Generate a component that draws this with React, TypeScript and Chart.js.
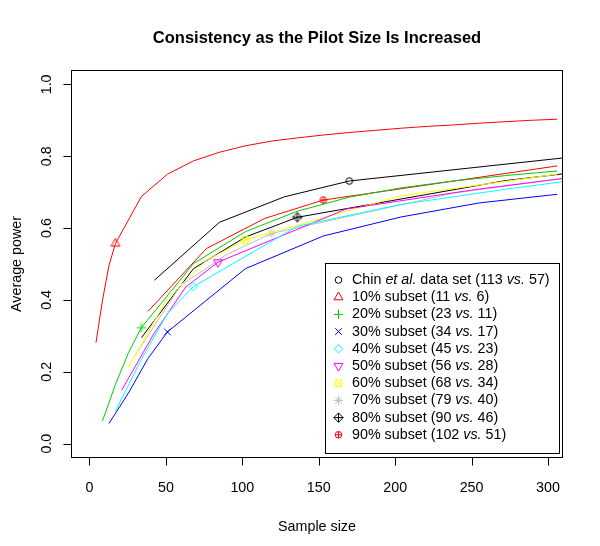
import React, { useEffect, useRef } from "react";
import { Chart, registerables } from "chart.js";

Chart.register(...registerables);

const FONT = '"Liberation Sans", Arial, Helvetica, sans-serif';

// ---- data ----
const chinX = [42.5, 85, 127.5, 170, 340];
const chinY = [0.455, 0.616, 0.687, 0.731, 0.809];

const s10X = [4.25, 8.5, 12.75, 17, 34, 51, 68, 85, 102, 119, 136, 153, 170, 187, 204, 221, 238, 255, 272, 289, 306];
const s10Y = [0.281, 0.399, 0.496, 0.557, 0.688, 0.750, 0.787, 0.811, 0.829, 0.842, 0.851, 0.859, 0.866, 0.872, 0.878, 0.883, 0.887, 0.892, 0.896, 0.900, 0.903];

const s20X = [8.5, 17, 25.5, 34, 68, 102, 136, 170, 204, 238, 272, 306];
const s20Y = [0.063, 0.165, 0.253, 0.323, 0.501, 0.590, 0.647, 0.686, 0.712, 0.731, 0.746, 0.759];

const s30X = [12.75, 25.5, 38.25, 51, 102, 153, 204, 255, 306];
const s30Y = [0.056, 0.141, 0.237, 0.311, 0.487, 0.578, 0.631, 0.670, 0.694];

const s40X = [17, 34, 51, 68, 136, 204, 272, 340];
const s40Y = [0.091, 0.235, 0.362, 0.437, 0.605, 0.666, 0.708, 0.746];

const s50X = [21, 42, 63, 84, 168, 252, 336];
const s50Y = [0.148, 0.305, 0.436, 0.505, 0.653, 0.707, 0.752];

const s60X = [25.5, 51, 76.5, 102, 204, 306];
const s60Y = [0.213, 0.405, 0.510, 0.567, 0.690, 0.750];

const s70X = [29.75, 59.5, 89.25, 119, 238, 357];
const s70Y = [0.245, 0.440, 0.525, 0.585, 0.697, 0.766];

const s80X = [34, 68, 102, 136, 272, 408];
const s80Y = [0.295, 0.487, 0.575, 0.630, 0.732, 0.800];

const s90X = [38.25, 76.5, 114.75, 153, 306];
const s90Y = [0.368, 0.543, 0.627, 0.678, 0.773];

// index of the point that carries the marker (the pilot's own size)
const markerIndex = 3;

const seriesColors = ["#000000", "#FF0000", "#00CD00", "#0000FF", "#00FFFF", "#FF00FF", "#FFFF00", "#BEBEBE", "#000000", "#FF0000"];
const seriesPch = [1, 2, 3, 4, 5, 6, 7, 8, 9, 10];

// legend labels: [text, italic]
const legendLabels: [string, boolean][][] = [
  [["Chin ", false], ["et al.", true], [" data set (113 ", false], ["vs.", true], [" 57)", false]],
  [["10% subset (11 ", false], ["vs.", true], [" 6)", false]],
  [["20% subset (23 ", false], ["vs.", true], [" 11)", false]],
  [["30% subset (34 ", false], ["vs.", true], [" 17)", false]],
  [["40% subset (45 ", false], ["vs.", true], [" 23)", false]],
  [["50% subset (56 ", false], ["vs.", true], [" 28)", false]],
  [["60% subset (68 ", false], ["vs.", true], [" 34)", false]],
  [["70% subset (79 ", false], ["vs.", true], [" 40)", false]],
  [["80% subset (90 ", false], ["vs.", true], [" 46)", false]],
  [["90% subset (102 ", false], ["vs.", true], [" 51)", false]],
];

const xTicks = [0, 50, 100, 150, 200, 250, 300];
const yTicks = [0, 0.2, 0.4, 0.6, 0.8, 1.0];
const yTickLabels = ["0.0", "0.2", "0.4", "0.6", "0.8", "1.0"];

const titleText = "Consistency as the Pilot Size Is Increased";
const xTitle = "Sample size";
const yTitle = "Average power";

const allX = [chinX, s10X, s20X, s30X, s40X, s50X, s60X, s70X, s80X, s90X];
const allY = [chinY, s10Y, s20Y, s30Y, s40Y, s50Y, s60Y, s70Y, s80Y, s90Y];

// ---- R-like plotting symbols ----
function drawSymbol(ctx: CanvasRenderingContext2D, pch: number, cx: number, cy: number, color: string) {
  const R = 3.3;
  ctx.save();
  ctx.strokeStyle = color;
  ctx.lineWidth = 1;
  ctx.beginPath();
  const plus = (d: number) => {
    ctx.moveTo(cx - d, cy); ctx.lineTo(cx + d, cy);
    ctx.moveTo(cx, cy - d); ctx.lineTo(cx, cy + d);
  };
  const cross = (d: number) => {
    ctx.moveTo(cx - d, cy - d); ctx.lineTo(cx + d, cy + d);
    ctx.moveTo(cx - d, cy + d); ctx.lineTo(cx + d, cy - d);
  };
  const diamond = (d: number) => {
    ctx.moveTo(cx, cy - d); ctx.lineTo(cx + d, cy); ctx.lineTo(cx, cy + d); ctx.lineTo(cx - d, cy); ctx.closePath();
  };
  switch (pch) {
    case 1:
      ctx.arc(cx, cy, R, 0, Math.PI * 2);
      break;
    case 2: {
      const r = 1.5551 * R, yc = 0.7776 * R, xc = 1.3468 * R;
      ctx.moveTo(cx, cy - r); ctx.lineTo(cx + xc, cy + yc); ctx.lineTo(cx - xc, cy + yc); ctx.closePath();
      break;
    }
    case 6: {
      const r = 1.5551 * R, yc = 0.7776 * R, xc = 1.3468 * R;
      ctx.moveTo(cx, cy + r); ctx.lineTo(cx + xc, cy - yc); ctx.lineTo(cx - xc, cy - yc); ctx.closePath();
      break;
    }
    case 3:
      plus(Math.SQRT2 * R);
      break;
    case 4:
      cross(R);
      break;
    case 5:
      diamond(1.2533 * R * 1.0);
      break;
    case 7:
      ctx.rect(cx - R, cy - R, 2 * R, 2 * R);
      cross(R);
      break;
    case 8:
      cross(R);
      plus(Math.SQRT2 * R);
      break;
    case 9: {
      const d = Math.SQRT2 * R;
      diamond(d);
      plus(d);
      break;
    }
    case 10:
      ctx.arc(cx, cy, R, 0, Math.PI * 2);
      ctx.moveTo(cx - R, cy); ctx.lineTo(cx + R, cy);
      ctx.moveTo(cx, cy - R); ctx.lineTo(cx, cy + R);
      break;
  }
  ctx.stroke();
  ctx.restore();
}

function makeMarker(pch: number, color: string): HTMLCanvasElement {
  const c = document.createElement("canvas");
  c.width = 20;
  c.height = 20;
  const cx = c.getContext("2d")!;
  drawSymbol(cx, pch, 10, 10, color);
  return c;
}

const decorPlugin = {
  id: "decor",
  afterDraw(chart: any) {
    const { ctx, chartArea: a, scales } = chart;
    const xs = scales.x;
    const ys = scales.y;
    ctx.save();
    ctx.strokeStyle = "#000";
    ctx.fillStyle = "#000";
    ctx.lineWidth = 1;
    // box
    ctx.strokeRect(Math.round(a.left) + 0.5, Math.round(a.top) + 0.5, Math.round(a.right - a.left) - 1, Math.round(a.bottom - a.top) - 1);

    const fs = 14.3;
    ctx.font = `${fs}px ${FONT}`;
    // x axis ticks
    const bottom = Math.round(a.bottom) - 0.5;
    ctx.beginPath();
    xTicks.forEach((v) => {
      const px = Math.round(xs.getPixelForValue(v)) + 0.5;
      ctx.moveTo(px, bottom);
      ctx.lineTo(px, bottom + 8);
    });
    ctx.stroke();
    ctx.textAlign = "center";
    ctx.textBaseline = "middle";
    xTicks.forEach((v) => {
      ctx.fillText(String(v), xs.getPixelForValue(v), 488);
    });
    // y axis ticks
    const left = Math.round(a.left) + 0.5;
    ctx.beginPath();
    yTicks.forEach((v) => {
      const py = Math.round(ys.getPixelForValue(v)) + 0.5;
      ctx.moveTo(left, py);
      ctx.lineTo(left - 8, py);
    });
    ctx.stroke();
    yTicks.forEach((v, i) => {
      ctx.save();
      ctx.translate(47, ys.getPixelForValue(v));
      ctx.rotate(-Math.PI / 2);
      ctx.fillText(yTickLabels[i], 0, 0);
      ctx.restore();
    });
    // axis titles
    const cxMid = (a.left + a.right) / 2;
    const cyMid = (a.top + a.bottom) / 2;
    ctx.fillText(xTitle, cxMid, 527);
    ctx.save();
    ctx.translate(17, cyMid);
    ctx.rotate(-Math.PI / 2);
    ctx.fillText(yTitle, 0, 0);
    ctx.restore();
    // main title
    ctx.font = `bold 16.5px ${FONT}`;
    ctx.fillText(titleText, cxMid, 38);

    // legend
    const lx0 = 325.5, ly0 = 263.5, lx1 = 559.5, ly1 = 453.5;
    ctx.fillStyle = "#fff";
    ctx.fillRect(lx0, ly0, lx1 - lx0, ly1 - ly0);
    ctx.strokeStyle = "#000";
    ctx.strokeRect(lx0, ly0, lx1 - lx0, ly1 - ly0);
    ctx.textAlign = "left";
    ctx.fillStyle = "#000";
    legendLabels.forEach((segs, i) => {
      const y = 280 + i * 17.2;
      drawSymbol(ctx, seriesPch[i], 338.5, y, seriesColors[i]);
      let x = 352;
      segs.forEach(([t, it]) => {
        ctx.font = `${it ? "italic " : ""}${fs}px ${FONT}`;
        ctx.fillStyle = "#000";
        ctx.fillText(t, x, y);
        x += ctx.measureText(t).width;
      });
    });
    ctx.restore();
  },
};

export default function App() {
  const ref = useRef<HTMLCanvasElement | null>(null);
  useEffect(() => {
    if (!ref.current) return;
    const datasets = allX.map((xsArr, i) => {
      const marker = makeMarker(seriesPch[i], seriesColors[i]);
      return {
        label: `s${i}`,
        data: xsArr.map((x, j) => ({ x, y: allY[i][j] })),
        borderColor: seriesColors[i],
        backgroundColor: seriesColors[i],
        borderWidth: 1,
        tension: 0,
        fill: false,
        pointStyle: marker,
        pointRadius: xsArr.map((_, j) => (j === markerIndex ? 5 : 0)),
        pointHoverRadius: 0,
      };
    });
    const chart = new Chart(ref.current, {
      type: "line",
      data: { datasets: datasets as any },
      options: {
        animation: false,
        responsive: false,
        devicePixelRatio: 1,
        layout: { padding: { left: 71, top: 70, right: 37, bottom: 88 } },
        plugins: { legend: { display: false }, title: { display: false }, tooltip: { enabled: false } },
        events: [],
        scales: {
          x: { type: "linear", min: -12.1, max: 309.8, display: false },
          y: { type: "linear", min: -0.04, max: 1.04, display: false },
        },
      },
      plugins: [decorPlugin],
    });
    return () => chart.destroy();
  }, []);
  return (
    <canvas
      ref={ref}
      width={600}
      height={546}
      style={{ position: "absolute", left: 0, top: 0, width: 600, height: 546, background: "#fff" }}
    />
  );
}
